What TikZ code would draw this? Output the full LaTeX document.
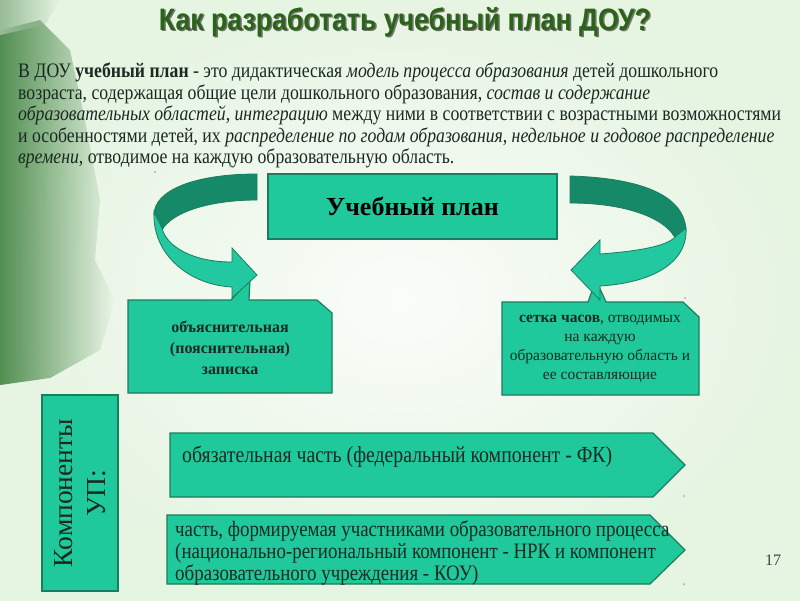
\documentclass[tikz,border=0pt]{standalone}
\usepackage{fontspec}
\setmainfont{Liberation Serif}
\newfontfamily\titlefont[FakeStretch=0.86]{Liberation Sans}
\newfontfamily\bodyfont[FakeStretch=0.86]{Liberation Serif}
\usetikzlibrary{fadings}
\definecolor{bg}{HTML}{E6F4E2}
\definecolor{boxfill}{HTML}{20C99C}
\definecolor{boxline}{HTML}{1A7D5C}
\definecolor{arrowdark}{HTML}{168A68}
\definecolor{arrowlight}{HTML}{22C9A0}
\definecolor{titlegreen}{HTML}{2B6419}
\definecolor{blob}{HTML}{528F52}
\definecolor{ink}{HTML}{1A2A22}
\begin{document}
\begin{tikzpicture}[x=1pt,y=-1pt,
  tealbox/.style={fill=boxfill, draw=boxline, line width=1.2pt},
  ribbondark/.style={fill=arrowdark, draw=boxline, line width=0.8pt},
  ribbonlight/.style={fill=arrowlight, draw=boxline, line width=0.8pt},
  speck/.style={circle, fill=gray!70, inner sep=0pt, minimum size=2pt},
  bodytext/.style={text=ink, inner sep=0pt}]
\useasboundingbox (0,0) rectangle (800,600);
% background
\fill[bg] (0,0) rectangle (800,600);
\shade[inner color=white!80!bg, outer color=bg] (0,0) rectangle (800,600);
\fill[blob, path fading=east] (0,30) -- (40,20) -- (70,50) -- (85,120) -- (100,200) -- (95,260) -- (115,300) -- (100,350) -- (50,378) -- (0,385) -- cycle;
\fill[blob!60!white, path fading=east] (0,0) -- (60,0) -- (45,25) -- (0,35) -- cycle;

% title
\node[font=\titlefont\bfseries\fontsize{31}{31}\selectfont, text=black!55] (titleshadow) at (406.5,23.5) {Как разработать учебный план ДОУ?};
\node[font=\titlefont\bfseries\fontsize{31}{31}\selectfont, text=titlegreen] (title) at (405,22) {Как разработать учебный план ДОУ?};

% paragraph
\node[bodytext, anchor=north west, align=left, font=\bodyfont\fontsize{20.6}{21.5}\selectfont] (intro) at (18,63) {%
В ДОУ \textbf{учебный план} - это дидактическая \textit{модель процесса образования} детей дошкольного\\
возраста, содержащая общие цели дошкольного образования, \textit{состав и содержание}\\
\textit{образовательных областей}, \textit{интеграцию} между ними в соответствии с возрастными возможностями\\
и особенностями детей, их \textit{распределение по годам образования}, \textit{недельное и годовое распределение}\\
\textit{времени}, отводимое на каждую образовательную область.};

% main box
\node[tealbox, minimum width=289pt, minimum height=65pt, text=black, font=\bfseries\fontsize{26}{26}\selectfont] (plan) at (412.5,206.5) {Учебный план};

% callouts
\draw[tealbox] (128,300) -- (231,300) -- (250,279) -- (249,300) -- (317,300) -- (332,313) -- (332,393) -- (128,393) -- cycle;
\node[bodytext, align=center, font=\bfseries\fontsize{16}{21}\selectfont] (note) at (230,348) {объяснительная\\(пояснительная)\\записка};
\draw[tealbox] (502,302) -- (588,302) -- (596,280) -- (606,302) -- (683,302) -- (699,317) -- (699,395) -- (502,395) -- cycle;
\node[bodytext, align=center, font=\fontsize{15.5}{19.3}\selectfont] (grid) at (600,349) {\textbf{сетка часов}, отводимых\\на каждую\\образовательную область и\\ее составляющие};

% left curved arrow
\path[ribbondark] (257,174) .. controls (195,174) and (154,190) .. (154,215) -- (162,230) .. controls (172,212) and (210,200) .. (257,200) -- cycle;
\path[ribbonlight] (154,212) .. controls (152,255) and (190,285) .. (232,287) -- (232,298) -- (257,275) -- (232,248) -- (232,262) .. controls (192,262) and (166,246) .. (162,228) -- cycle;

% right curved arrow
\path[ribbondark] (570,176) .. controls (640,178) and (686,195) .. (686,232) -- (676,240) .. controls (668,220) and (630,203) .. (570,203) -- cycle;
\path[ribbonlight] (686,228) .. controls (688,264) and (650,283) .. (600,286) -- (600,300) -- (571,270) -- (600,240) -- (600,254) .. controls (640,251) and (668,246) .. (676,236) -- cycle;

% components
\node[tealbox, minimum width=76pt, minimum height=196pt] (comp) at (80,493) {};
\node[bodytext, rotate=90, align=center, font=\fontsize{27.5}{33}\selectfont] (complabel) at (comp.center) {Компоненты\\УП:};

\draw[tealbox] (170,433) -- (653,433) -- (685,465) -- (653,497) -- (170,497) -- cycle;
\node[bodytext, anchor=west, font=\bodyfont\fontsize{23}{23}\selectfont] (fk) at (182,457) {обязательная часть (федеральный компонент - ФК)};
\draw[tealbox] (167,515) -- (650,515) -- (685,550) -- (650,584) -- (167,584) -- cycle;
\node[bodytext, anchor=north west, align=left, font=\bodyfont\fontsize{22}{22}\selectfont] (nrk) at (175,521) {часть, формируемая участниками образовательного процесса\\(национально-региональный компонент - НРК и компонент\\образовательного учреждения - КОУ)};

% page number and specks
\node[text=black!75, font=\fontsize{16}{16}\selectfont] (pagenum) at (773,560) {17};
\node[speck] (s1) at (155,172) {};
\node[speck] (s2) at (685,298) {};
\node[speck] (s3) at (684,496) {};
\node[speck] (s4) at (684,584) {};
\end{tikzpicture}
\end{document}
